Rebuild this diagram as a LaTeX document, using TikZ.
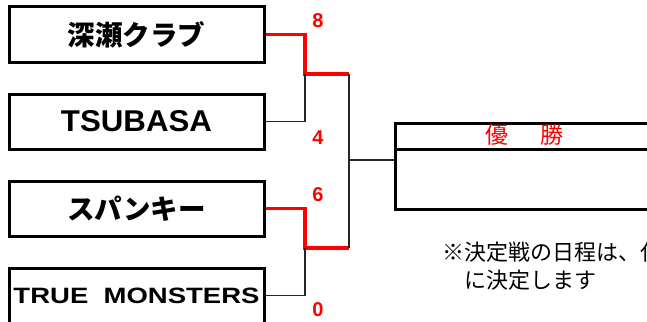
\documentclass[tikz,border=0pt]{standalone}
\usepackage{fontspec}
\usepackage{graphicx}
\setmainfont{Liberation Sans}
\newfontfamily\jpfont{Noto Sans CJK JP}
\usetikzlibrary{positioning}

\begin{document}
\begin{tikzpicture}[
  x=1pt, y=-1pt,
  node distance=29pt,
  team/.style={draw, line width=3pt, minimum width=255pt, minimum height=55pt, inner sep=0pt, font=\bfseries},
  win/.style={draw=red, line width=3.8pt},
  lose/.style={draw=black!85, line width=1.1pt},
  score/.style={text=red, inner sep=0pt, font=\bfseries\fontsize{20}{20}\selectfont}
]
\useasboundingbox (0,0) rectangle (647,321);
% teams
\node[team] (fukase) at (136.5,34.5) {\jpfont\fontsize{27.5}{30}\selectfont 深瀬クラブ};
\node[team, below=of fukase] (tsubasa) {\resizebox{151pt}{21pt}{TSUBASA}};
\node[team, below=of tsubasa] (spanky) {\jpfont\fontsize{27.5}{30}\selectfont スパンキー};
\node[team, below=of spanky] (monsters) {\resizebox{246pt}{15.5pt}{TRUE~~MONSTERS}};
% bracket joints
\coordinate (semi1) at (305,74);
\coordinate (semi2) at (305,248);
\coordinate (fin1) at (349,74);
\coordinate (fin2) at (349,248);
\coordinate (finmid) at (349,160);
% winner box
\node[draw, line width=2.5pt, minimum width=320pt, minimum height=86pt, inner sep=0pt, anchor=north west] (winbox) at (394,122) {};
\coordinate (divider) at (394,149.5);
\node[text=red, font=\jpfont\fontsize{23}{23}\selectfont] (wintitle) at (524.5,135) {優\hspace{31.5pt}勝};
% connectors
\draw[win] (fukase.east) -| (semi1) -- (fin1);
\draw[lose] (tsubasa.east) -| (semi1);
\draw[win] (spanky.east) -| (semi2) -- (fin2);
\draw[lose] (monsters.east) -| (semi2);
\draw[lose] (fin1) -- (fin2);
\draw[lose] (finmid) -- (finmid -| winbox.west);
\draw[line width=2.5pt] (divider) -- (divider -| winbox.east);
% scores
\node[score] (sc1) at (318,21) {8};
\node[score] (sc2) at (318,138) {4};
\node[score] (sc3) at (318,195) {6};
\node[score] (sc4) at (318,310) {0};
% note
\node[anchor=west, align=left, inner sep=0pt, font=\jpfont\fontsize{22}{28}\selectfont] (note) at (442,266) {※決定戦の日程は、代\\\hspace*{22pt}に決定します};
\end{tikzpicture}
\end{document}
